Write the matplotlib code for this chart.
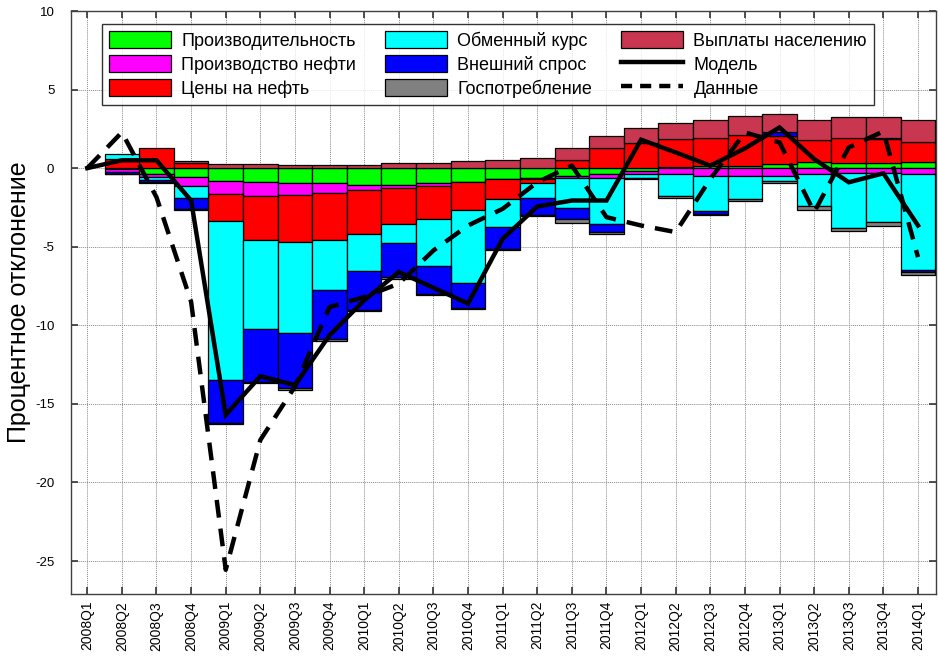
import numpy as np
import matplotlib
matplotlib.use("Agg")
import matplotlib.pyplot as plt
from matplotlib.patches import Patch
from matplotlib.lines import Line2D

plt.rcParams['font.family'] = ['Liberation Sans', 'DejaVu Sans']
plt.rcParams['axes.unicode_minus'] = False

quarters = ["2008Q1", "2008Q2", "2008Q3", "2008Q4",
            "2009Q1", "2009Q2", "2009Q3", "2009Q4",
            "2010Q1", "2010Q2", "2010Q3", "2010Q4",
            "2011Q1", "2011Q2", "2011Q3", "2011Q4",
            "2012Q1", "2012Q2", "2012Q3", "2012Q4",
            "2013Q1", "2013Q2", "2013Q3", "2013Q4", "2014Q1"]

productivity = [0, -0.05, -0.35, -0.58, -0.8, -0.9, -0.96, -0.93, -1.07, -1.07, -0.94, -0.86, -0.69,
                -0.62, -0.48, -0.37, -0.15, 0.05, 0.12, 0.16, 0.27, 0.37, 0.33, 0.33, 0.37]
oil_output = [0, -0.2, -0.22, -0.55, -0.85, -0.9, -0.74, -0.62, -0.31, -0.21, -0.17, -0.03, -0.03,
              -0.05, -0.17, -0.25, -0.2, -0.35, -0.48, -0.48, -0.48, -0.4, -0.3, -0.3, -0.37]
oil_price = [0, 0.6, 1.28, 0.33, -1.7, -2.75, -3.0, -3.0, -2.8, -2.26, -2.12, -1.76, -1.24,
             -0.3, 0.52, 1.28, 1.6, 1.8, 1.8, 1.95, 1.75, 1.42, 1.59, 1.55, 1.31]
exchange_rate = [0, 0.3, -0.2, -0.75, -10.15, -5.7, -5.78, -3.2, -2.39, -1.21, -3.0, -4.66, -1.8,
                 -0.92, -1.88, -2.92, -0.25, -1.45, -2.22, -1.48, -0.32, -2.04, -3.52, -3.14, -6.14]
foreign_demand = [0, -0.1, -0.12, -0.75, -2.7, -3.35, -3.53, -3.15, -2.48, -2.18, -1.76, -1.59, -1.37,
                  -1.06, -0.7, -0.53, 0, 0, -0.2, 0, 0.25, 0, 0, 0.05, -0.08]
gov_consumption = [0, -0.05, -0.05, -0.03, -0.1, -0.1, -0.08, -0.08, -0.07, -0.1, -0.1, -0.08, -0.08,
                   -0.1, -0.25, -0.15, -0.08, -0.08, -0.1, -0.12, -0.17, -0.2, -0.21, -0.21, -0.23]
transfers = [0, 0, 0, 0.1, 0.27, 0.27, 0.2, 0.2, 0.2, 0.33, 0.33, 0.43, 0.52,
             0.62, 0.76, 0.74, 0.95, 1.02, 1.16, 1.22, 1.17, 1.27, 1.31, 1.3, 1.38]

model = [0, 0.5, 0.5, -2.06, -15.7, -13.24, -13.81, -10.63, -8.41, -6.61, -7.61, -8.62, -4.5,
         -2.44, -2.06, -2.06, 1.81, 1.0, 0.16, 1.26, 2.59, 0.58, -0.9, -0.33, -3.65]
data = [0, 2.28, -1.85, -8.5, -25.56, -17.3, -13.9, -8.84, -8.2, -7.35, -5.24, -3.65, -2.59,
        -0.9, 0.16, -3.12, -3.65, -4.07, -0.69, 2.27, 1.64, -2.8, 1.32, 2.34, -5.66]

series_names = ["Производительность", "Производство нефти", "Цены на нефть",
                "Обменный курс", "Внешний спрос", "Госпотребление", "Выплаты населению"]
series_vals = [productivity, oil_output, oil_price, exchange_rate,
               foreign_demand, gov_consumption, transfers]
colors = ["#00FF00", "#FF00FF", "#FF0000", "#00FFFF", "#0000FF", "#808080", "#C8374F"]

fig = plt.figure(figsize=(9.39, 6.63), dpi=100)
ax = fig.add_axes([71/939, 1 - 594/663, 865/939, 583/663])

x = np.arange(len(quarters))
pos_base = np.zeros(len(x))
neg_base = np.zeros(len(x))
for vals, col in zip(series_vals, colors):
    v = np.array(vals, dtype=float)
    base = np.where(v >= 0, pos_base, neg_base)
    m = v != 0
    ax.bar(x[m], v[m], bottom=base[m], width=1.0, color=col,
           edgecolor="black", linewidth=0.9, zorder=3)
    pos_base = pos_base + np.where(v > 0, v, 0)
    neg_base = neg_base + np.where(v < 0, v, 0)

ax.plot(x, model, color="black", linewidth=3.2, zorder=5, solid_joinstyle="miter")
ax.plot(x, data, color="black", linewidth=3.2, dashes=(4, 2.5), zorder=5)

ax.set_xlim(-0.47, 24.52)
ax.set_ylim(-27.1, 10)
ax.set_yticks(np.arange(-25, 11, 5))
ax.set_xticks(x)
ax.set_xticklabels(quarters, rotation=90, fontsize=10)
ax.tick_params(axis="y", labelsize=9.5, pad=12)
ax.tick_params(axis="x", pad=5)
ax.tick_params(direction="in", top=True, right=True, length=5, width=1.2, color="#333333")
ax.grid(True, linestyle=(0, (1, 1)), color="#8a8a8a", linewidth=0.7, zorder=0)
ax.set_axisbelow(True)
for s in ax.spines.values():
    s.set_color("#404040")
    s.set_linewidth(1.0)

ax.set_ylabel("Процентное отклонение", fontsize=18, labelpad=2.5)

handles = [Patch(facecolor=c, edgecolor="black", linewidth=0.9) for c in colors[:7]]
handles += [Line2D([0], [0], color="black", linewidth=3.2),
            Line2D([0], [0], color="black", linewidth=3.2, dashes=(2.5, 1.8))]
labels = series_names + ["Модель", "Данные"]
leg = ax.legend(handles, labels, ncol=3, loc="upper left",
                bbox_to_anchor=((102 - 71) / 865, (594 - 24) / 583),
                borderaxespad=0, fontsize=13, frameon=True, fancybox=False,
                handlelength=3.4, handleheight=1.05, handletextpad=0.6,
                columnspacing=1.6, labelspacing=0.3, borderpad=0.4)
leg.get_frame().set_edgecolor("black")
leg.get_frame().set_linewidth(1.0)
leg.set_zorder(10)

fig.savefig("out.png", dpi=100)
